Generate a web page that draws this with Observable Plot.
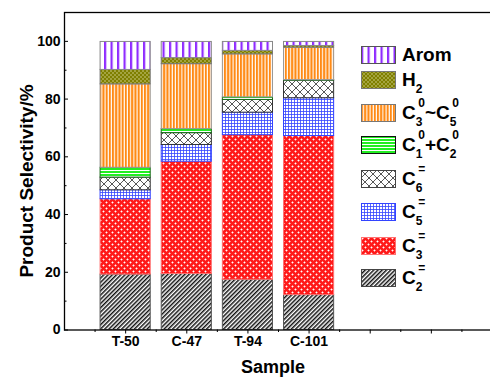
<!DOCTYPE html>
<html><head><meta charset="utf-8">
<script src="https://cdn.jsdelivr.net/npm/d3@7"></script>
<script src="https://cdn.jsdelivr.net/npm/@observablehq/plot@0.6"></script>
<style>
html,body{margin:0;padding:0;background:#fff;overflow:hidden;width:490px;height:377px}
#wrap{position:relative;width:490px;height:377px;overflow:hidden;font-family:"Liberation Sans",Arial,sans-serif;font-weight:bold;color:#000}
#chart svg{display:block;max-width:none !important;width:492px !important;height:377px !important}
.item{position:absolute;left:0;height:17px;width:140px}
.item svg{position:absolute;left:361px;top:0}
.lab{position:absolute;left:402px;top:0;font-size:19px;line-height:17px;white-space:nowrap}
.ss{position:relative;display:inline-block;font-size:12px;line-height:17px;padding-right:2.5px}
.sb{position:relative;top:7px;line-height:10px}
.sp{position:absolute;left:2.5px;top:-9px;line-height:10px}
.sub{font-size:12px;position:relative;top:7px;line-height:10px}
#ytitle{position:absolute;left:27px;top:181px;transform:translate(-50%,-50%) rotate(-90deg);font-size:19px;white-space:nowrap}
#xtitle{position:absolute;left:273px;top:357px;transform:translateX(-50%);font-size:18px;white-space:nowrap}
</style>
</head><body>
<svg width="0" height="0" style="position:absolute">
<defs>
<pattern id="pArom" patternUnits="userSpaceOnUse" width="6.5" height="10"><rect width="6.5" height="10" fill="#fff"/><rect x="0" width="2.2" height="10" fill="#8f2bff"/></pattern>
<pattern id="pH2" patternUnits="userSpaceOnUse" width="4" height="4"><rect width="4" height="4" fill="#7f7f00"/><rect x="0.4" y="0.4" width="1.2" height="1.2" fill="#e6e6b0"/><rect x="2.4" y="2.4" width="1.2" height="1.2" fill="#e6e6b0"/></pattern>
<pattern id="pC35" patternUnits="userSpaceOnUse" width="3.2" height="10"><rect width="3.2" height="10" fill="#fff"/><rect x="0" width="2.1" height="10" fill="#ff8a14"/></pattern>
<pattern id="pC12" patternUnits="userSpaceOnUse" width="10" height="3"><rect width="10" height="3" fill="#fff"/><rect y="0" width="10" height="2" fill="#22ee22"/></pattern>
<pattern id="pC6" patternUnits="userSpaceOnUse" width="8" height="8"><rect width="8" height="8" fill="#fff"/><path d="M0,0L8,8M8,0L0,8" stroke="#444" stroke-width="0.9"/></pattern>
<pattern id="pC5" patternUnits="userSpaceOnUse" width="3" height="3"><rect width="3" height="3" fill="#fff"/><path d="M0,0.5H3M0.5,0V3" stroke="#3344ff" stroke-width="0.8"/></pattern>
<pattern id="pC3" patternUnits="userSpaceOnUse" width="6" height="6"><rect width="6" height="6" fill="#ff1a1a"/><path d="M0.5,1.5h2M1.5,0.5v2M3.5,4.5h2M4.5,3.5v2" stroke="#fff" stroke-width="0.9"/></pattern>
<pattern id="pC2" patternUnits="userSpaceOnUse" width="3" height="3" patternTransform="rotate(45)"><rect width="3" height="3" fill="#fff"/><rect width="1.5" height="3" fill="#111"/></pattern>
</defs>
</svg>
<div id="wrap">
<div id="chart"></div>
<div id="legend"></div>
<div id="ytitle">Product Selectivity/%</div>
<div id="xtitle">Sample</div>
</div>
<script>
// ---- data ----
const samples = ["T-50", "C-47", "T-94", "C-101"];
const seriesNames = ["C2=", "C3=", "C5=", "C6=", "C1+C2", "C3~C5", "H2", "Arom"];
const C2e  = [19.2, 19.4, 17.4, 12.1];
const C3e  = [26.1, 38.9, 50.1, 55.1];
const C5e  = [3.1, 5.8, 7.8, 13.1];
const C6e  = [4.4, 4.1, 4.4, 6.1];
const C1C2 = [3.4, 1.4, 0.9, 0.2];
const C3C5 = [28.9, 22.5, 14.9, 11.2];
const H2   = [5.0, 2.1, 1.2, 0.6];
const Arom = [9.7, 5.6, 3.1, 1.4];
const yTicks = [0, 20, 40, 60, 80, 100];
const yMinor = [10, 30, 50, 70, 90];

// ---- styles ----
const seriesValues = [C2e, C3e, C5e, C6e, C1C2, C3C5, H2, Arom];
const fills = ["url(#pC2)", "url(#pC3)", "url(#pC5)", "url(#pC6)", "url(#pC12)", "url(#pC35)", "url(#pH2)", "url(#pArom)"];
const strokes = ["#555", "#ff7070", "#3344ff", "#333", "#1a6a1a", "#999", "#777", "#888"];

const table = [];
samples.forEach((s, i) => {
  seriesNames.forEach((n, k) => {
    table.push({sample: s, pos: i + 1, series: n, k, value: seriesValues[k][i]});
  });
});

const xMajor = [1, 2, 3, 4, 5, 6, 7];
const xMinor = [0.5, 1.5, 2.5, 3.5, 4.5, 5.5, 6.5];
const halfW = 0.41;

const chart = Plot.plot({
  width: 492,
  height: 377,
  marginLeft: 64,
  marginRight: 0,
  marginTop: 12,
  marginBottom: 47.5,
  x: {domain: [0, 7], axis: null},
  y: {domain: [0, 110], axis: null},
  color: {type: "identity"},
  style: {fontFamily: "Liberation Sans, Arial, sans-serif", fontWeight: "bold", fontSize: "14px", color: "#000", background: "transparent", overflow: "hidden"},
  marks: [
    Plot.rectY(table, Plot.stackY({
      x1: d => d.pos - halfW,
      x2: d => d.pos + halfW,
      y: "value",
      fill: d => fills[d.k],
      stroke: d => strokes[d.k],
      strokeWidth: 1
    })),
    Plot.axisX({ticks: xMajor, tickSize: 4, tickPadding: 2, tickFormat: d => samples[d - 1] ?? "", fontSize: 14, fontWeight: "bold", stroke: "#000", label: null}),
    Plot.axisX({ticks: xMinor, tickSize: 2.5, tickFormat: () => "", stroke: "#000", label: null}),
    Plot.axisY({ticks: yTicks, tickSize: -4, tickFormat: () => "", stroke: "#000", label: null}),
    Plot.axisY({ticks: yMinor, tickSize: -2.5, tickFormat: () => "", stroke: "#000", label: null}),
    Plot.axisY({ticks: yTicks, tickSize: 0, tickPadding: 4, tickFormat: d => String(d), fontSize: 14, fontWeight: "bold", label: null}),
    Plot.frame({stroke: "#000", strokeWidth: 1.3})
  ]
});
document.getElementById("chart").appendChild(chart);

// ---- legend ----
const ss = (sub, sup) => `<span class="ss"><span class="sb">${sub}</span><span class="sp">${sup}</span></span>`;
const legendItems = [
  {fill: "url(#pArom)", stroke: "#555", html: "Arom"},
  {fill: "url(#pH2)", stroke: "#777", html: `H<span class="sub">2</span>`},
  {fill: "url(#pC35)", stroke: "#777", html: `C${ss("3", "0")}~C${ss("5", "0")}`},
  {fill: "url(#pC12)", stroke: "#111", html: `C${ss("1", "0")}+C${ss("2", "0")}`},
  {fill: "url(#pC6)", stroke: "#444", html: `C${ss("6", "=")}`},
  {fill: "url(#pC5)", stroke: "#3344ff", html: `C${ss("5", "=")}`},
  {fill: "url(#pC3)", stroke: "#ff7070", html: `C${ss("3", "=")}`},
  {fill: "url(#pC2)", stroke: "#444", html: `C${ss("2", "=")}`}
];
const legendTops = [46, 70.7, 104, 136, 170, 203, 236.7, 269];
const lg = document.getElementById("legend");
legendItems.forEach((it, i) => {
  const div = document.createElement("div");
  div.className = "item";
  div.style.top = legendTops[i] + "px";
  div.style.left = "0px";
  div.style.width = "490px";
  div.innerHTML = `<svg width="36" height="19"><rect x="0.5" y="0.5" width="34" height="17" fill="${it.fill}" stroke="${it.stroke}" stroke-width="1"/></svg><span class="lab">${it.html}</span>`;
  lg.appendChild(div);
});
</script>
</body></html>
